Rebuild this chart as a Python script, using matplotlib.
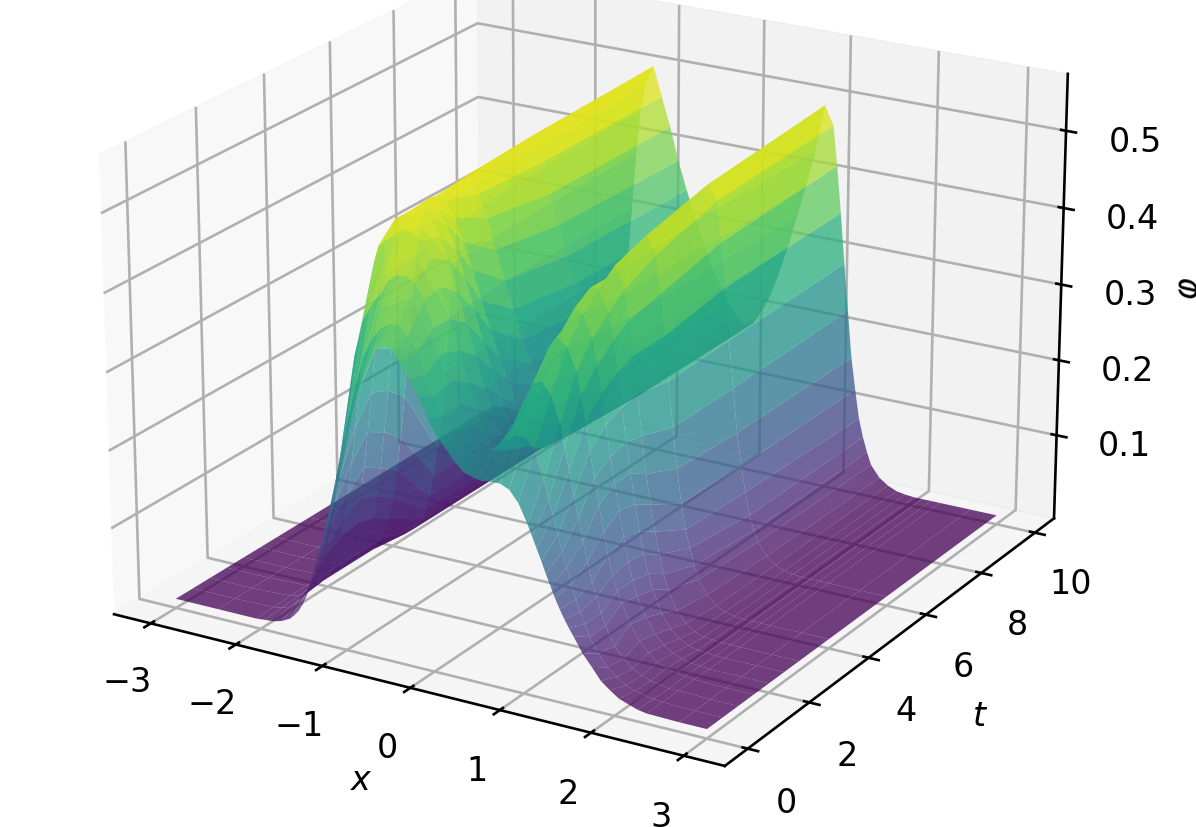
import numpy as np
import matplotlib
matplotlib.use("Agg")
import matplotlib.pyplot as plt

# valores
x_values = [-3, -2.5, -2.05, -1.95, -1.85, -1.75,
            -1.65, -1.6, -1.55, -1.5, -1.45, -1.4, -1.35, -1.3, -1.25, -1.2, -1.15,
            -1.05, -0.95, -0.85, -0.75, -0.65, -0.55, -0.45, -0.35, -0.25, -0.15, -0.05,
            0.05, 0.15, 0.25, 0.35, 0.45, 0.55, 0.65, 0.75, 0.85, 0.95, 1.05,
            1.1, 1.15, 1.2, 1.25, 1.3, 1.35, 1.4, 1.45, 1.5, 1.55,
            1.65, 1.75, 1.85, 1.95, 2.05, 2.15, 2.25, 2.35, 2.7, 3]
t_values = [0, 0.5, 1, 1.5, 2, 2.5, 3, 4, 6, 10]

z_t0 = [0, 0, 0, .001, .002, .005, .011, .017, .024, .034, .047, .064, .085, .104, .123, .142, .161,
        .208, .26, .307, .345, .373, .387, .383, .369, .35, .331, .307, .288, .274, .26, .25, .246, .244, .246, .246, .241, .227, .203,
        .189, .175, .161, .146, .132, .118, .106, .095, .085, .076,
        .057, .043, .028, .019, .011, .007, .003, .001, 0, 0]
z_t05 = [0, 0, .001, .003, .007, .018, .033, .045, .061, .08, .104, .128, .151, .18, .208, .235, .26,
         .31, .35, .375, .39, .397, .397, .387, .369, .345, .321, .298, .279, .265, .26, .26, .265, .274, .284, .293, .293, .279, .246,
         .222, .203, .18, .161, .142, .123, .104, .09, .076, .061,
         .043, .028, .019, .011, .007, .004, .002, .001, 0, 0]
z_t1 = [0, 0, .002, .005, .011, .025, .06, .08, .107, .137, .17, .208, .246, .279, .331, .355, .378,
        .40, .415, .435, .444, .444, .439, .42, .387, .359, .326, .298, .274, .255, .25, .255, .269, .293, .321, .345, .35, .335, .302,
        .274, .246, .217, .189, .161, .137, .113, .095, .076, .061,
        .038, .025, .015, .009, .005, .003, .001, .001, 0, 0]
z_t15 = [0, 0, .002, .006, .014, .03, .074, .10, .134, .175, .222, .269, .317, .359, .406, .44, .46,
         .47, .48, .488, .482, .477, .458, .425, .387, .35, .312, .279, .25, .236, .236, .25, .274, .307, .345, .378, .392, .383, .354,
         .326, .293, .26, .227, .194, .161, .132, .109, .09, .076,
         .052, .033, .021, .012, .007, .004, .002, .001, 0, 0]
z_t2 = [0, 0, .002, .006, .014, .03, .08, .113, .156, .203, .255, .312, .364, .406, .449, .47, .482,
        .49, .49, .491, .491, .472, .444, .406, .369, .331, .293, .26, .236, .222, .227, .246, .274, .312, .354, .392, .416, .411, .383,
        .35, .317, .279, .241, .208, .175, .142, .113, .09, .071,
        .047, .028, .017, .009, .005, .002, .001, 0, 0, 0]
z_t25 = [0, 0, .002, .006, .014, .03, .074, .104, .142, .19, .245, .30, .36, .41, .45, .47, .482,
         .491, .491, .491, .472, .444, .411, .373, .335, .302, .269, .241, .222, .213, .217, .241, .274, .312, .354, .397, .43, .43, .402,
         .369, .331, .288, .246, .208, .17, .137, .109, .085, .066,
         .038, .021, .011, .005, .002, .001, 0, 0, 0, 0]
z_t3 = [0, 0, .002, .006, .014, .03, .06, .088, .125, .17, .225, .29, .355, .41, .45, .475, .485,
        .491, .487, .468, .439, .406, .369, .335, .302, .274, .246, .222, .203, .198, .213, .236, .269, .307, .35, .392, .43, .449, .42,
        .383, .34, .293, .241, .194, .156, .123, .095, .071, .052,
        .028, .014, .006, .002, .001, 0, 0, 0, 0, 0]
z_t4 = [0, 0, .001, .003, .008, .017, .033, .047, .066, .095, .132, .18, .236, .307, .378, .43, .468,
        .496, .472, .444, .406, .369, .335, .298, .269, .241, .217, .198, .189, .194, .208, .232, .265, .302, .345, .387, .43, .463, .439,
        .392, .34, .284, .227, .175, .132, .099, .076, .055, .038,
        .021, .009, .004, .001, 0, 0, 0, 0, 0, 0]
z_t6 = [0, 0, .001, .003, .008, .017, .033, .047, .066, .095, .132, .18, .236, .312, .383, .439, .472,
        .501, .468, .43, .392, .354, .321, .288, .26, .236, .213, .194, .184, .189, .208, .232, .265, .302, .345, .387, .435, .482, .463,
        .411, .354, .288, .227, .17, .128, .095, .066, .047, .033,
        .017, .008, .003, .001, 0, 0, 0, 0, 0, 0]
z_t10 = [0, 0, .001, .003, .008, .017, .033, .047, .066, .095, .132, .18, .236, .312, .387, .444, .477,
         .506, .468, .43, .387, .35, .317, .284, .255, .232, .213, .194, .184, .189, .208, .232, .265, .302, .345, .387, .435, .496, .472,
         .42, .359, .293, .232, .17, .128, .09, .066, .047, .031,
         .016, .008, .003, .001, 0, 0, 0, 0, 0, 0]
z_rows = [z_t0, z_t05, z_t1, z_t15, z_t2, z_t25, z_t3, z_t4, z_t6, z_t10]

x_ticks = [-3, -2, -1, 0, 1, 2, 3]
t_ticks = [0, 2, 4, 6, 8, 10]
z_ticks = [0.1, 0.2, 0.3, 0.4, 0.5]

plt.rcParams["axes.linewidth"] = 1.9
plt.rcParams["xtick.major.width"] = 1.9
plt.rcParams["ytick.major.width"] = 1.9
plt.rcParams["grid.linewidth"] = 1.9
plt.rcParams["font.size"] = 24

fig = plt.figure(figsize=(11.96, 8.28), dpi=100)
ax = fig.add_axes([-0.071, -0.076, 1.11, 1.287], projection="3d")
ax.view_init(elev=21, azim=-59.5)
ax.set_box_aspect((4, 4, 2.78))

X, T = np.meshgrid(x_values, t_values)
Z = np.array(z_rows)
ax.plot_surface(X, T, Z, rstride=1, cstride=1, cmap="viridis", vmin=0, vmax=0.51, alpha=0.75, linewidth=0, antialiased=True)

ax.set_zlim(-0.012, 0.573)
ax.set_xticks(x_ticks)
ax.set_yticks(t_ticks)
ax.set_zticks(z_ticks)
ax.set_xlabel("$x$", labelpad=30)
ax.set_ylabel("$t$", labelpad=32)
ax.set_zlabel("$\\varphi$", labelpad=36)
ax.tick_params(pad=16)
ax.tick_params(axis="z", pad=22)

fig.savefig("out.png", dpi=100)
